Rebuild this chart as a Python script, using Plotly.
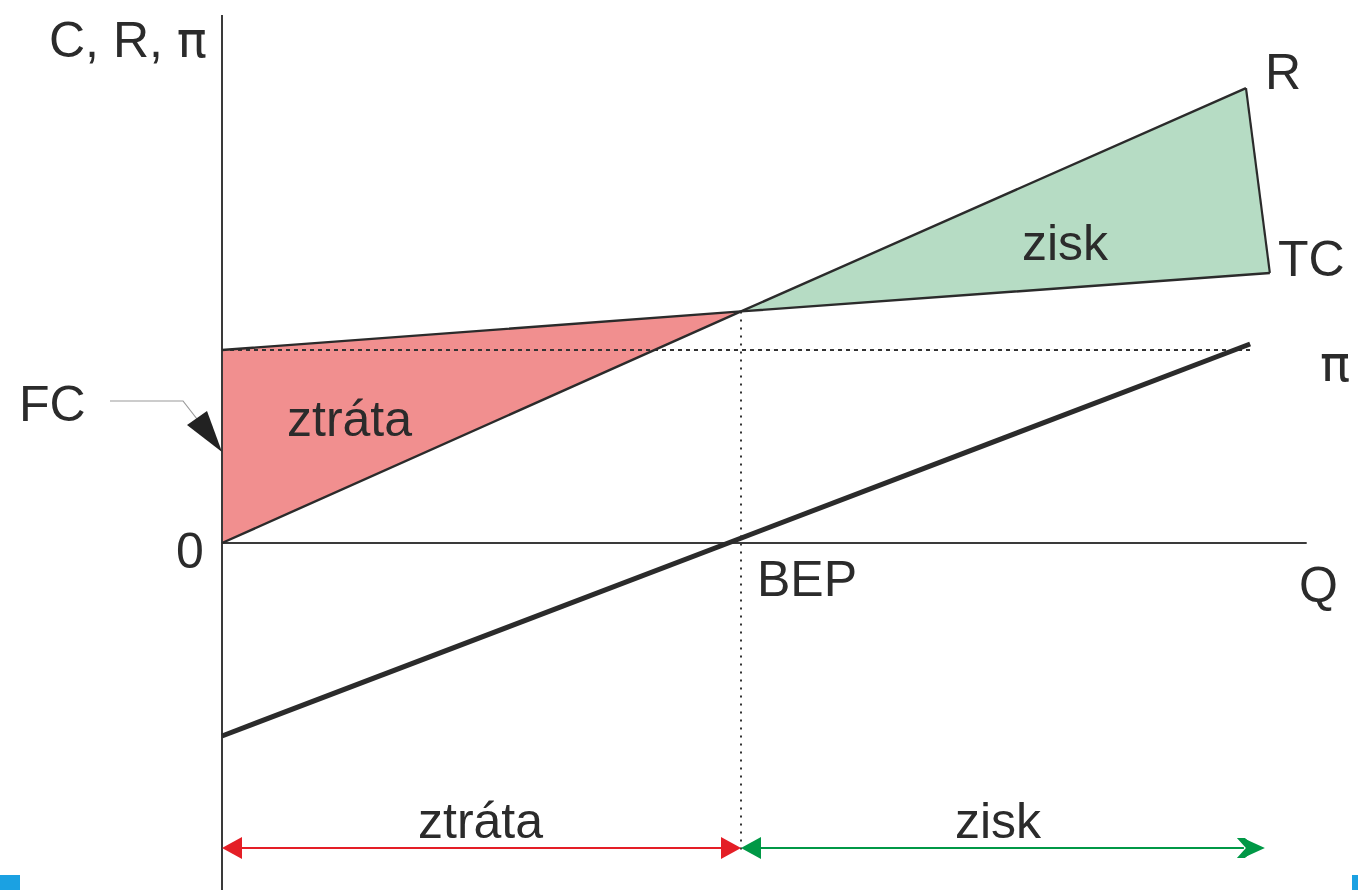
import plotly.graph_objects as go

# ---- data ----
Q_R = [0, 10, 19.73]
R_vals = [0, 120, 235.7]
Q_TC = [0, 10, 20.19]
TC_vals = [100, 120, 139.9]
Q_PI = [0, 19.81]
PI_vals = [-100, 103.1]
FC = 100
Q_BEP = 10
Q_AXIS_END = 20.9
Y_AXIS_TOP = 273.6
Y_RANGE_ARROWS = -158

W, H = 1358, 890
X0, SX = 222, 51.9     # pixel of Q=0, pixels per Q unit
Y0, SY = 543, 1.93     # pixel of value 0, pixels per value unit

def px(q):
    return X0 + q * SX

def py(v):
    return Y0 - v * SY

def qx(p):
    return (p - X0) / SX

def vy(p):
    return (Y0 - p) / SY

xr = [qx(0), qx(W)]
yr = [vy(H), vy(0)]

INK = "#2b2b2b"
RED_FILL = "rgb(241,143,143)"
GREEN_FILL = "rgb(182,220,196)"
RED = "rgb(228,30,38)"
GREEN = "rgb(0,152,70)"

fig = go.Figure()

# filled regions
fig.add_trace(go.Scatter(
    x=[Q_TC[0], Q_BEP, Q_R[0], Q_TC[0]],
    y=[TC_vals[0], TC_vals[1], R_vals[0], TC_vals[0]],
    fill="toself", fillcolor=RED_FILL, mode="lines", line=dict(width=0),
    hoverinfo="skip", showlegend=False))
fig.add_trace(go.Scatter(
    x=[Q_BEP, Q_R[-1], Q_TC[-1], Q_BEP],
    y=[R_vals[1], R_vals[-1], TC_vals[-1], R_vals[1]],
    fill="toself", fillcolor=GREEN_FILL, mode="lines", line=dict(width=0),
    hoverinfo="skip", showlegend=False))

# dotted guides
fig.add_trace(go.Scatter(
    x=[0, Q_PI[-1]], y=[FC, FC], mode="lines",
    line=dict(color="#333333", width=1.8, dash="4px,4px"),
    hoverinfo="skip", showlegend=False))
fig.add_trace(go.Scatter(
    x=[Q_BEP, Q_BEP], y=[TC_vals[1], Y_RANGE_ARROWS - 2], mode="lines",
    line=dict(color="#333333", width=2, dash="2px,6px"),
    hoverinfo="skip", showlegend=False))

# axes
fig.add_trace(go.Scatter(
    x=[0, 0], y=[Y_AXIS_TOP, yr[0]], mode="lines",
    line=dict(color="#3a3a3a", width=2), hoverinfo="skip", showlegend=False))
fig.add_trace(go.Scatter(
    x=[0, Q_AXIS_END], y=[0, 0], mode="lines",
    line=dict(color="#3a3a3a", width=2), hoverinfo="skip", showlegend=False))

# R, TC lines and closing edge
fig.add_trace(go.Scatter(x=Q_R, y=R_vals, mode="lines",
                         line=dict(color=INK, width=2.4), hoverinfo="skip", showlegend=False))
fig.add_trace(go.Scatter(x=Q_TC, y=TC_vals, mode="lines",
                         line=dict(color=INK, width=2.4), hoverinfo="skip", showlegend=False))
fig.add_trace(go.Scatter(x=[Q_R[-1], Q_TC[-1]], y=[R_vals[-1], TC_vals[-1]], mode="lines",
                         line=dict(color=INK, width=2.2), hoverinfo="skip", showlegend=False))
# profit line
fig.add_trace(go.Scatter(x=Q_PI, y=PI_vals, mode="lines",
                         line=dict(color=INK, width=5), hoverinfo="skip", showlegend=False))

# bottom range arrows (lines)
head = 20
fig.add_trace(go.Scatter(x=[qx(px(0) + head - 2), qx(px(Q_BEP) - head + 2)],
                         y=[Y_RANGE_ARROWS] * 2, mode="lines",
                         line=dict(color=RED, width=2), hoverinfo="skip", showlegend=False))
fig.add_trace(go.Scatter(x=[qx(px(Q_BEP) + head - 2), Q_TC[-1] - 0.5],
                         y=[Y_RANGE_ARROWS] * 2, mode="lines",
                         line=dict(color=GREEN, width=2), hoverinfo="skip", showlegend=False))

shapes = []

def P(xp, yp):
    return f"{xp / W:.5f},{1 - yp / H:.5f}"

def poly(points, color, line_color=None):
    path = "M " + " L ".join(P(a, b) for a, b in points) + " Z"
    shapes.append(dict(type="path", xref="paper", yref="paper", path=path,
                       fillcolor=color, line=dict(width=0 if line_color is None else 1,
                                                 color=line_color or color)))

ya = py(Y_RANGE_ARROWS)
# red heads
poly([(px(0), ya), (px(0) + head, ya - 11), (px(0) + head, ya + 11)], RED)
poly([(px(Q_BEP), ya), (px(Q_BEP) - head, ya - 11), (px(Q_BEP) - head, ya + 11)], RED)
# green heads
poly([(px(Q_BEP), ya), (px(Q_BEP) + head, ya - 11), (px(Q_BEP) + head, ya + 11)], GREEN)
gx = px(Q_TC[-1] - 0.5) + 21
poly([(gx, ya), (gx - 22, ya - 10), (gx - 15, ya), (gx - 22, ya + 10)], GREEN)
poly([(gx - 14, ya - 5), (gx - 20, ya - 10), (gx - 28, ya - 10), (gx - 19, ya),
      (gx - 28, ya + 10), (gx - 20, ya + 10), (gx - 14, ya + 5)], GREEN)

# FC leader line + arrowhead
shapes.append(dict(type="path", xref="paper", yref="paper",
                   path=f"M {P(110, 401)} L {P(183, 401)} L {P(197, 419)}",
                   line=dict(color="#9a9a9a", width=1.2)))
poly([(187, 425), (207, 411), (px(0), 452)], "#222222")

# blue corner marks
shapes.append(dict(type="rect", xref="paper", yref="paper",
                   x0=0, x1=20 / W, y0=0, y1=1 - 875 / H,
                   fillcolor="rgb(27,161,226)", line=dict(width=0)))
shapes.append(dict(type="rect", xref="paper", yref="paper",
                   x0=1352 / W, x1=1, y0=0, y1=1 - 875 / H,
                   fillcolor="rgb(27,161,226)", line=dict(width=0)))

PI_SYM = '<span style="font-family:DejaVu Sans">π</span>'
FONT = dict(family="Liberation Sans, Arial, sans-serif", size=50, color=INK)
DY = 3
labels = [
    ("C, R, " + PI_SYM, 128, 37.5),
    ("R", 1283, 69),
    ("TC", 1311, 256),
    (PI_SYM, 1335, 361),
    ("zisk", 1065, 239.5),
    ("ztráta", 350, 415.5),
    ("FC", 52, 400.5),
    ("0", 190, 547.5),
    ("BEP", 807, 575.5),
    ("Q", 1318, 582),
    ("ztráta", 480, 817.5),
    ("zisk", 998, 817.5),
]
annotations = [dict(text=t, x=xp / W, y=1 - (yp + DY) / H, xref="paper", yref="paper",
                    xanchor="center", yanchor="middle", showarrow=False, font=FONT)
               for t, xp, yp in labels]

fig.update_layout(
    width=W, height=H,
    margin=dict(l=0, r=0, t=0, b=0),
    paper_bgcolor="white", plot_bgcolor="white",
    xaxis=dict(range=xr, visible=False, fixedrange=True),
    yaxis=dict(range=yr, visible=False, fixedrange=True),
    shapes=shapes, annotations=annotations, showlegend=False,
)

fig.write_html("out.html", config={"displayModeBar": False},
               post_script="document.body.style.margin='0';document.body.style.overflow='hidden';")
